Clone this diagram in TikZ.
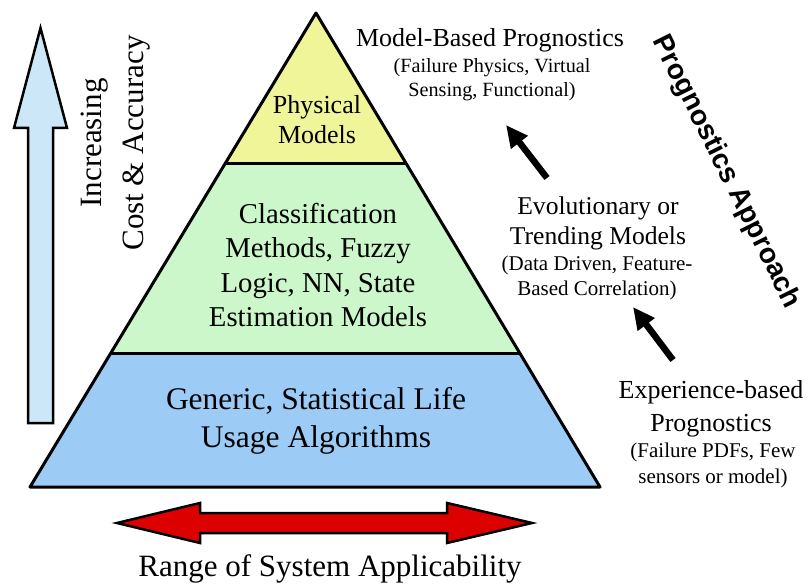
\documentclass[tikz,border=0pt]{standalone}
\usepackage{fontspec}
\setmainfont{Liberation Serif}
\newfontfamily\arialfont{Liberation Sans}
\usetikzlibrary{arrows.meta}
\definecolor{pyrYellow}{HTML}{F0F59A}
\definecolor{pyrGreen}{HTML}{CCF7CA}
\definecolor{pyrBlue}{HTML}{9CCBF6}
\definecolor{upBlue}{HTML}{CBE7F8}
\definecolor{rangeRed}{HTML}{DD0000}
\tikzset{
  lvl/.style={line width=3pt, line join=round},
  txt/.style={align=center, inner sep=0pt},
  bigarrow/.style={line width=2.5pt, line join=miter},
  blackarrow/.style={line width=6.5pt, -{Triangle[length=22pt,width=20pt]}},
}
\begin{document}
\begin{tikzpicture}[x=1pt,y=-1pt]
\useasboundingbox (0,0) rectangle (808,585);
% pyramid corner points
\coordinate (A) at (316,13);
\coordinate (P1L) at (224.9,164);
\coordinate (P1R) at (406.5,164);
\coordinate (P2L) at (110.8,353);
\coordinate (P2R) at (519.7,353);
\coordinate (BL) at (30,487);
\coordinate (BR) at (600,487);
\fill[pyrYellow] (A) -- (P1R) -- (P1L) -- cycle;
\fill[pyrGreen] (P1L) -- (P1R) -- (P2R) -- (P2L) -- cycle;
\fill[pyrBlue] (P2L) -- (P2R) -- (BR) -- (BL) -- cycle;
\draw[lvl] (A) -- (BR) -- (BL) -- cycle;
\draw[lvl] (P1L) -- (P1R);
\draw[lvl] (P2L) -- (P2R);
% pyramid texts
\node[txt, font=\fontsize{26}{30}\selectfont] (phys) at (317,120) {Physical\\Models};
\node[txt, font=\fontsize{28.75}{34.5}\selectfont] (class) at (318,265) {Classification\\Methods, Fuzzy\\Logic, NN, State\\Estimation Models};
\node[txt, font=\fontsize{31.5}{38}\selectfont] (gen) at (316,421) {Generic, Statistical Life\\Usage Algorithms};
% up arrow
\draw[bigarrow, fill=upBlue] (28,423) -- (28,128) -- (14,128) -- (40.5,28) -- (67,128) -- (53,128) -- (53,423) -- cycle;
\node[txt, rotate=90, font=\fontsize{31}{42}\selectfont] (cost) at (116,143) {Increasing\\Cost \& Accuracy};
% red double arrow
\draw[bigarrow, fill=rangeRed] (117,523) -- (200,503) -- (200,513) -- (447,513) -- (447,503) -- (532,523) -- (447,543) -- (447,533) -- (200,533) -- (200,543) -- cycle;
\node[txt, font=\fontsize{31}{37}\selectfont] (range) at (330,569) {Range of System Applicability};
% right side texts
\node[txt, font=\fontsize{26}{30}\selectfont] (model) at (490,40) {Model-Based Prognostics};
\node[txt, font=\fontsize{20.2}{24}\selectfont] (modelsub) at (492,80) {(Failure Physics, Virtual\\Sensing, Functional)};
\node[txt, font=\fontsize{25.6}{30}\selectfont] (evo) at (598,223) {Evolutionary or\\Trending Models};
\node[txt, font=\fontsize{21}{25}\selectfont] (evosub) at (597,277.5) {(Data Driven, Feature-\\Based Correlation)};
\node[txt, font=\fontsize{26}{33}\selectfont] (exp) at (711,408.5) {Experience-based\\Prognostics};
\node[txt, font=\fontsize{21}{26}\selectfont] (expsub) at (713,465) {(Failure PDFs, Few\\sensors or model)};
\node[txt, rotate=-63.5, font=\arialfont\bfseries\fontsize{28}{32}\selectfont] (approach) at (726,172) {Prognostics Approach};
% black arrows
\coordinate (a1s) at (547,178);
\coordinate (a1e) at (506,125);
\coordinate (a2s) at (673,360);
\coordinate (a2e) at (633,307);
\draw[blackarrow] (a1s) -- (a1e);
\draw[blackarrow] (a2s) -- (a2e);
\end{tikzpicture}
\end{document}
